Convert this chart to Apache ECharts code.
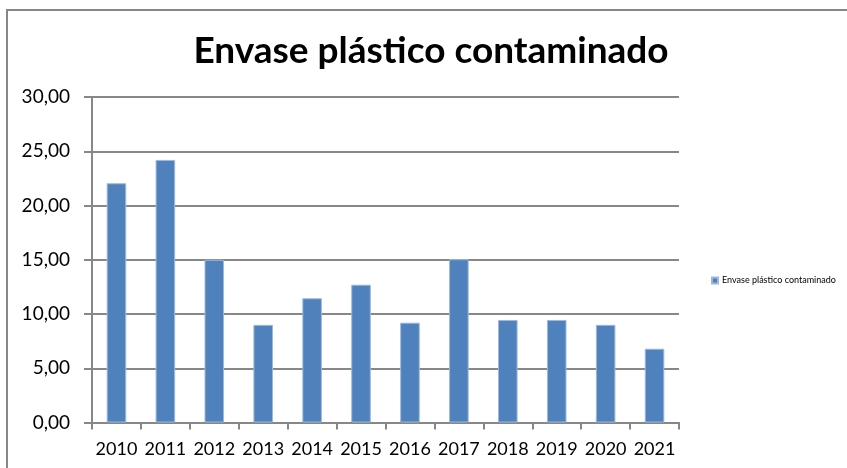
<!DOCTYPE html>
<html>
<head>
<meta charset="utf-8">
<script src="https://cdn.jsdelivr.net/npm/echarts@6/dist/echarts.min.js"></script>
<style>
html,body{margin:0;padding:0;background:#fff;}
#c{width:847px;height:468px;}
</style>
</head>
<body>
<div id="c"></div>
<script>
const titleText = 'Envase plástico contaminado';
const seriesName = 'Envase plástico contaminado';
const categories = ['2010','2011','2012','2013','2014','2015','2016','2017','2018','2019','2020','2021'];
const values = [22.05, 24.2, 15.0, 9.0, 11.45, 12.7, 9.2, 15.05, 9.45, 9.45, 9.0, 6.8];
const yMin = 0, yMax = 30, yStep = 5;

const chart = echarts.init(document.getElementById('c'), null, {renderer:'canvas'});
const font = 'Lato, "Open Sans", sans-serif';
const gray = '#878787';
chart.setOption({
  animation:false,
  backgroundColor:'#ffffff',
  textStyle:{fontFamily:font},
  graphic:[{
    type:'rect', z:-1,
    shape:{x:7, y:10, width:900, height:500},
    style:{fill:'none', stroke:gray, lineWidth:2}
  }],
  title:{
    text:titleText, left:426, top:28, textAlign:'center',
    textStyle:{fontFamily:font, fontSize:37, fontWeight:'bold', color:'#000'}
  },
  legend:{
    left:711, top:276, itemWidth:6, itemHeight:6, padding:0, itemGap:4,
    icon:'rect',
    textStyle:{fontFamily:font, fontSize:9, color:'#000', padding:[0,0,0,-1]},
    data:[seriesName]
  },
  grid:{left:92, right:168, top:97, bottom:45.5, containLabel:false},
  xAxis:{
    type:'category', data:categories,
    axisLine:{lineStyle:{color:gray, width:2}},
    axisTick:{show:true, length:7, interval:0, lineStyle:{color:gray, width:2}},
    axisLabel:{fontFamily:font, fontSize:18, color:'#000', margin:18, interval:0}
  },
  yAxis:{
    type:'value', min:yMin, max:yMax, interval:yStep,
    axisLine:{show:true, lineStyle:{color:gray, width:2}},
    axisTick:{show:true, length:8, lineStyle:{color:gray, width:2}},
    splitLine:{lineStyle:{color:gray, width:2}},
    axisLabel:{fontFamily:font, fontSize:19, color:'#000', margin:22,
      formatter:v=>v.toFixed(2).replace('.',',')}
  },
  series:[{
    name:seriesName, type:'bar', data:values, barWidth:'40%',
    itemStyle:{color:'#4F81BD', borderColor:'#9db8dc', borderWidth:1}
  }]
});
</script>
</body>
</html>
